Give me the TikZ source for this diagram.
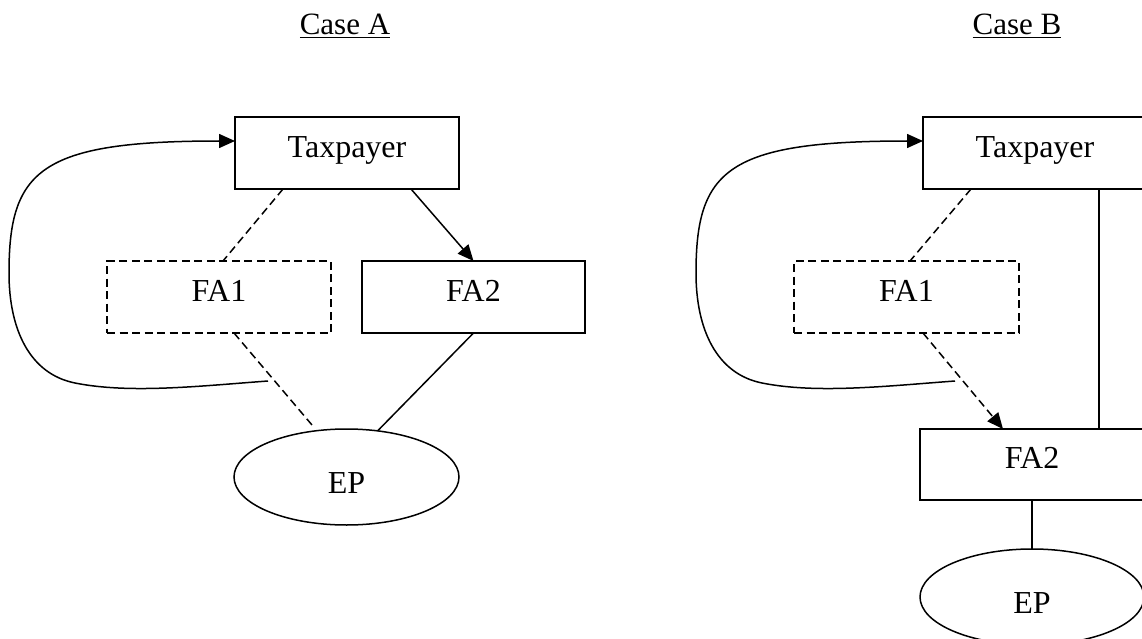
\documentclass[tikz,border=0pt]{standalone}
\usepackage{fontspec}
\setmainfont{Liberation Serif}
\usetikzlibrary{arrows.meta,shapes.geometric}
\begin{document}
\begin{tikzpicture}[x=1pt,y=-1pt,
  every node/.style={font=\fontsize{32}{38}\selectfont, inner sep=0pt, outer sep=0pt},
  ln/.style={line width=1.5pt},
  dsh/.style={ln, dash pattern=on 8pt off 4.5pt},
  tip/.style={-{Triangle[length=16pt,width=14pt]}},
  boxnode/.style={draw, ln, rectangle, minimum width=224pt, minimum height=72pt, text height=20pt, text depth=11.5pt},
  dboxnode/.style={boxnode, dsh},
  epnode/.style={draw, ln, ellipse, minimum width=224pt, minimum height=96pt, text height=32pt, text depth=0pt},
  ttl/.style={anchor=base, font=\fontsize{31}{37}\selectfont}]
\useasboundingbox (0,0) rectangle (1142,639);
% ---------- Case A ----------
\node[ttl] (ttlA) at (345,35) {\underline{Case A}};
\node[boxnode] (tA) at (347,153) {Taxpayer};
\node[dboxnode] (fa1A) at (219,297) {FA1};
\node[boxnode, minimum width=223pt] (fa2A) at (473.5,297) {FA2};
\node[epnode, minimum width=225pt] (epA) at (346.5,477) {EP};
\coordinate (cA) at (268,381);
\draw[dsh] ([xshift=48pt]tA.south west) -- ([xshift=116pt]fa1A.north west);
\draw[ln, tip] ([xshift=176pt]tA.south west) -- (fa2A.north);
\draw[dsh] ([xshift=127pt]fa1A.south west) -- ([xshift=-34.5pt,yshift=52pt]epA.center);
\draw[ln] (fa2A.south) -- (epA.56);
\draw[ln, tip] (cA) .. controls (200,386) and (130,394) .. (75,383)
  .. controls (30,374) and (9,330) .. (9,273)
  .. controls (9,170) and (40,141) .. ([yshift=12pt]tA.west);
% ---------- Case B ----------
\node[ttl] (ttlB) at (1017,35) {\underline{Case B}};
\node[boxnode] (tB) at (1035,153) {Taxpayer};
\node[dboxnode, minimum width=225pt] (fa1B) at (906.5,297) {FA1};
\node[boxnode, minimum height=71pt] (fa2B) at (1032,464.5) {FA2};
\node[epnode] (epB) at (1032,597) {EP};
\coordinate (cB) at (955,381);
\draw[dsh] ([xshift=48pt]tB.south west) -- ([xshift=116pt]fa1B.north west);
\draw[dsh, tip] ([xshift=129pt]fa1B.south west) -- ([xshift=83pt]fa2B.north west);
\draw[ln] ([xshift=176pt]tB.south west) -- ([xshift=179pt]fa2B.north west);
\draw[ln] (fa2B.south) -- (epB.north);
\draw[ln, tip] (cB) .. controls (887,386) and (817,394) .. (762,383)
  .. controls (717,374) and (696,330) .. (696,273)
  .. controls (696,170) and (727,141) .. ([yshift=12pt]tB.west);
\end{tikzpicture}
\end{document}
